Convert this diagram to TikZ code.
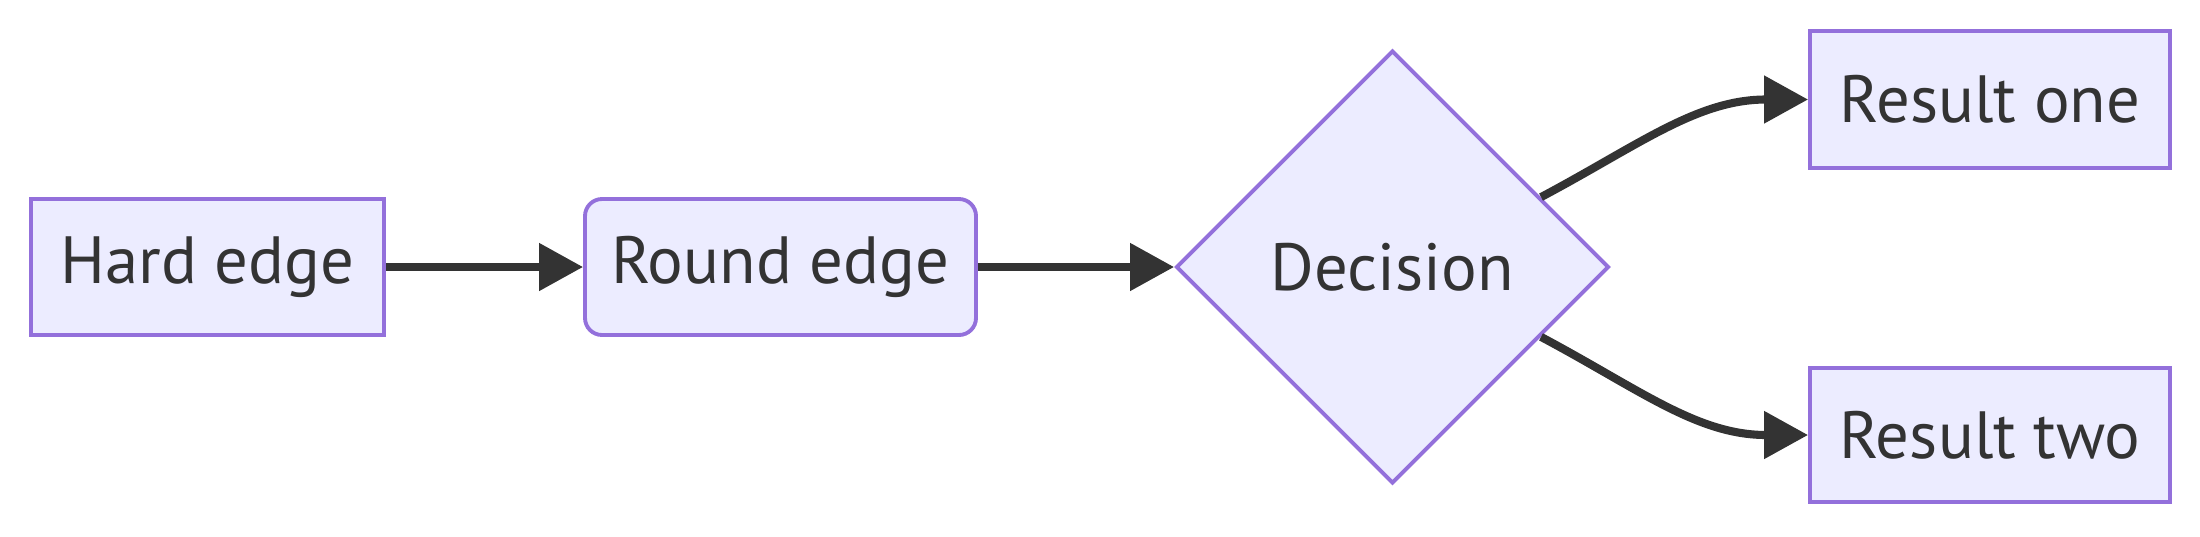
\documentclass[tikz,border=0pt]{standalone}
\usepackage{fontspec}
\setmainfont{PT Sans}
\usetikzlibrary{shapes.geometric,arrows.meta,calc}
\definecolor{nodefill}{HTML}{ECECFF}
\definecolor{nodeline}{HTML}{9370DB}
\definecolor{ink}{HTML}{333333}
\begin{document}
\begin{tikzpicture}[
  every node/.style={font=\fontsize{19}{23}\selectfont, text=ink},
  box/.style={draw=nodeline, fill=nodefill, line width=1.1pt, inner sep=0pt},
  rbox/.style={box, rounded corners=0.17cm},
  dia/.style={box, diamond, aspect=1, minimum width=4.33cm, minimum height=4.33cm},
  link/.style={draw=ink, line width=2.3pt, -{Triangle[length=0.44cm,width=0.46cm]}}
]
\useasboundingbox (0,0) rectangle (22,5.36);
\node[box, minimum width=3.53cm, minimum height=1.36cm] (hard) at (2.075,2.69) {Hard edge};
\node[rbox, minimum width=3.91cm, minimum height=1.36cm] (round) at (7.805,2.69) {Round edge};
\node[dia] (dec) at (13.925,2.69) {Decision};
\node[box, minimum width=3.60cm, minimum height=1.37cm] (r1) at (19.90,4.365) {Result one};
\node[box, minimum width=3.60cm, minimum height=1.34cm] (r2) at (19.90,1.01) {Result two};
\coordinate (d1) at ($(dec.north)!0.68!(dec.east)$);
\coordinate (d2) at ($(dec.south)!0.68!(dec.east)$);
\draw[link] (hard) -- (round);
\draw[link] (round) -- (dec.west);
\draw[link] (d1) to[out=28,in=180] (r1.west);
\draw[link] (d2) to[out=-28,in=180] (r2.west);
\end{tikzpicture}
\end{document}
